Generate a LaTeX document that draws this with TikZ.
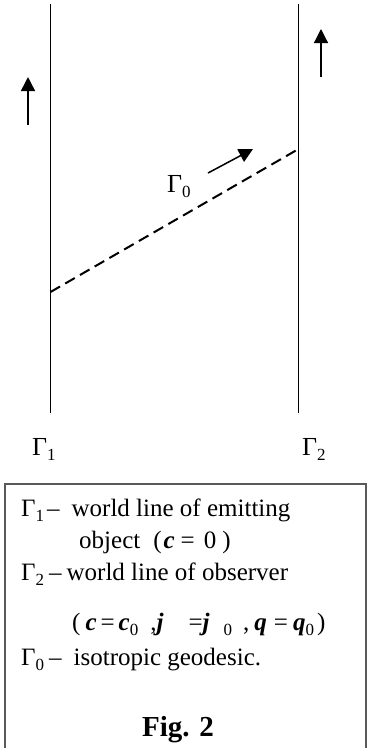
\documentclass[tikz,border=0pt]{standalone}
\usepackage{fontspec}
\setmainfont{Liberation Serif}
\usetikzlibrary{arrows.meta}
\newcommand{\bi}[1]{\textbf{\textit{#1}}}
\newcommand{\sub}[1]{\raisebox{-5pt}{\fontsize{17}{17}\selectfont #1}}
\definecolor{boxgray}{rgb}{0.35,0.35,0.35}
\begin{document}
\begin{tikzpicture}[x=1pt,y=-1pt,
  wl/.style={line width=1.5pt},
  arr/.style={line width=1.5pt,-{Triangle[length=14pt,width=14pt]}},
  lbl/.style={inner sep=0pt, anchor=base west, font=\fontsize{26}{30}\selectfont},
  txt/.style={inner sep=0pt, anchor=base west, font=\fontsize{25}{30}\selectfont},
  figlbl/.style={inner sep=0pt, anchor=base, font=\fontsize{29}{34}\selectfont\bfseries},
]
\useasboundingbox (0,0) rectangle (375,748);
% world lines
\coordinate (L1t) at (50.5,4);  \coordinate (L1b) at (50.5,413);
\coordinate (L2t) at (298.5,4); \coordinate (L2b) at (298.5,413);
\draw[wl] (L1t) -- (L1b);
\draw[wl] (L2t) -- (L2b);
% isotropic geodesic
\coordinate (em) at (50.5,292); \coordinate (ob) at (298.5,149);
\draw[line width=2pt, dash pattern=on 11pt off 6pt] (em) -- (ob);
% direction arrows
\coordinate (a1s) at (28,125);  \coordinate (a1e) at (28,77);
\coordinate (a2s) at (321,77);  \coordinate (a2e) at (321,29);
\coordinate (a0s) at (208,173); \coordinate (a0e) at (253,149);
\draw[arr] (a1s) -- (a1e);
\draw[arr, line width=1.2pt] (a2s) -- (a2e);
\draw[arr] (a0s) -- (a0e);
% labels
\node[lbl] (g0) at (167,192) {Γ\sub{0}};
\node[lbl] (g1) at (32,455) {Γ\sub{1}};
\node[lbl] (g2) at (302,455) {Γ\sub{2}};
% legend box
\draw[draw=boxgray, line width=1.2pt] (5,748) -- (5,484) -- (366,484) -- (366,748);
\node[txt] (t1) at (21,516) {Γ\sub{1}\hspace{3pt}–\hspace{12pt}world line of emitting};
\node[txt] (t2) at (79,548) {object\hspace{13pt}(\hspace{2pt}\bi{c}\hspace{6pt}=\hspace{9pt}0\hspace{6pt})};
\node[txt] (t3) at (21,580) {Γ\sub{2}\hspace{5pt}–\hspace{5pt}world line of observer};
\node[txt] (t4) at (72,630) {(\hspace{5pt}\bi{c}\hspace{4pt}=\hspace{4pt}\bi{c}\sub{0}\hspace{12pt},\bi{j}\hspace{25pt}=\bi{j}\hspace{14pt}\sub{0}\hspace{11pt},\hspace{5pt}\bi{q}\hspace{7pt}=\hspace{5pt}\bi{q}\sub{0}\hspace{3pt})};
\node[txt] (t5) at (21,665) {Γ\sub{0}\hspace{5pt}–\hspace{12pt}isotropic geodesic.};
\node[figlbl] (fig) at (178,736) {Fig. 2};
\end{tikzpicture}
\end{document}
